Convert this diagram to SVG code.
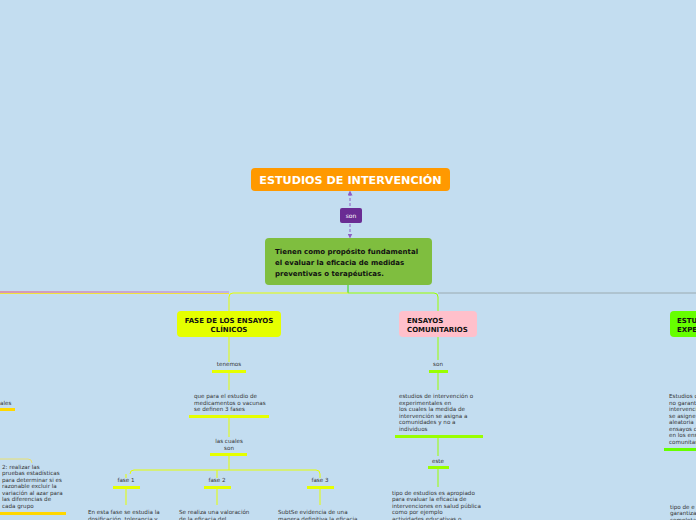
<svg xmlns="http://www.w3.org/2000/svg" width="696" height="520" viewBox="0 0 696 520">
<defs>
<style>
.bg{fill:#c3ddf0}
.t{font-family:"DejaVu Sans","Verdana",sans-serif;fill:#333}
.s{font-size:5.6px}
.nb{font-family:"DejaVu Sans","Verdana",sans-serif;font-weight:bold;fill:#111;font-size:7px}
.ln{fill:none;stroke-width:1}
.y{stroke:#e5ff00}
.lm{stroke:#99ff00}
.g{stroke:#66ff00}
.gd{stroke:#ffd700}
.ubY{fill:#e5ff00}
.ubL{fill:#99ff00}
.ubG{fill:#66ff00}
.ubD{fill:#ffd700}
</style>
<marker id="ah" viewBox="0 0 6 6" refX="3" refY="3" markerWidth="5" markerHeight="5" orient="auto-start-reverse">
<path d="M0,0 L6,3 L0,6 z" fill="#8e5cc4"/>
</marker>
<linearGradient id="lg" gradientUnits="userSpaceOnUse" x1="0" y1="292" x2="229" y2="292">
<stop offset="0" stop-color="#e8507a"/>
<stop offset="1" stop-color="#b888e0"/>
</linearGradient>
</defs>
<rect class="bg" x="0" y="0" width="696" height="520"/>

<g id="connectors">
<line x1="350" y1="193" x2="350" y2="206" stroke="#8e5cc4" stroke-width="1" stroke-dasharray="3,2" marker-start="url(#ah)"/>
<line x1="350" y1="224" x2="350" y2="236" stroke="#8e5cc4" stroke-width="1" stroke-dasharray="3,2" marker-end="url(#ah)"/>
<path class="ln" d="M348,285 V293" stroke="#33dd00" stroke-width="2"/>
<path class="ln" d="M229,292 H0" stroke="url(#lg)"/>
<path class="ln" d="M229,293.5 H0" stroke="#f2e23a"/>
<path class="ln y" d="M348,293 H233 Q229,293 229,297 V311"/>
<path class="ln lm" d="M348,293 H434 Q438,293 438,297 V311"/>
<path class="ln" d="M438,293 H696" stroke="#9aaab0"/>
<path class="ln y" d="M229,337 V362"/>
<path class="ln y" d="M229,373 V390"/>
<path class="ln y" d="M229,418 V437"/>
<path class="ln y" d="M229,456 V470"/>
<path class="ln y" d="M130,474 Q130,470 134,470 H316 Q320,470 320,474 V478"/>
<path class="ln y" d="M217,470 V478"/>
<path class="ln y" d="M126,474 V478"/>
<path class="ln y" d="M126,488 V505"/>
<path class="ln y" d="M217,488 V505"/>
<path class="ln y" d="M320,488 V505"/>
<path class="ln lm" d="M438,337 V360"/>
<path class="ln lm" d="M438,373 V390"/>
<path class="ln lm" d="M438,438 V456"/>
<path class="ln lm" d="M438,469 V487"/>
<path class="ln" d="M0,459 H28 Q32,459 32,463" stroke="#e8e070"/>
</g>

<g id="n-title">
<rect x="251" y="168" width="199" height="23" rx="4" fill="#ff9900"/>
<text x="350.5" y="184" text-anchor="middle" font-family="DejaVu Sans, Verdana, sans-serif" font-weight="bold" font-size="11.2" fill="#ffffff">ESTUDIOS DE INTERVENCIÓN</text>
</g>

<g id="n-son">
<rect x="340" y="208" width="22" height="15" rx="2" fill="#6a2c93"/>
<text x="351" y="218" text-anchor="middle" font-family="DejaVu Sans, Verdana, sans-serif" font-size="6" fill="#ffffff">son</text>
</g>

<g id="n-proposito">
<rect x="265" y="238" width="167" height="47" rx="4" fill="#7fbe3f"/>
<text class="nb" x="275" y="254">Tienen como propósito fundamental</text>
<text class="nb" x="275" y="265">el evaluar la eficacia de medidas</text>
<text class="nb" x="275" y="276">preventivas o terapéuticas.</text>
</g>

<g id="n-fase-ensayos">
<rect x="177" y="311" width="104" height="26" rx="4" fill="#e5ff00"/>
<text class="nb" x="229" y="322.5" text-anchor="middle">FASE DE LOS ENSAYOS</text>
<text class="nb" x="229" y="331.5" text-anchor="middle">CLÍNICOS</text>
</g>

<g id="n-tenemos">
<text class="t s" x="229" y="366" text-anchor="middle">tenemos</text>
<rect class="ubY" x="212" y="370" width="34" height="3"/>
</g>

<g id="n-que-para">
<text class="t s" x="194" y="398">que para el estudio de</text>
<text class="t s" x="194" y="404.5">medicamentos o vacunas</text>
<text class="t s" x="194" y="411">se definen 3 fases</text>
<rect class="ubY" x="189" y="415" width="80" height="3"/>
</g>

<g id="n-las-cuales">
<text class="t s" x="229" y="443" text-anchor="middle">las cuales</text>
<text class="t s" x="229" y="450" text-anchor="middle">son</text>
<rect class="ubY" x="210" y="453" width="37" height="3"/>
</g>

<g id="n-fase1">
<text class="t s" x="126" y="482" text-anchor="middle">fase 1</text>
<rect class="ubY" x="113" y="486" width="27" height="3"/>
<text class="t s" x="88" y="514">En esta fase se estudia  la</text>
<text class="t s" x="88" y="520.5">dosificación, tolerancia y</text>
</g>

<g id="n-fase2">
<text class="t s" x="217" y="482" text-anchor="middle">fase 2</text>
<rect class="ubY" x="204" y="486" width="27" height="3"/>
<text class="t s" x="179" y="514">Se realiza una valoración</text>
<text class="t s" x="179" y="520.5">de la eficacia del</text>
</g>

<g id="n-fase3">
<text class="t s" x="320" y="482" text-anchor="middle">fase 3</text>
<rect class="ubY" x="307" y="486" width="27" height="3"/>
<text class="t s" x="278" y="514">SubtSe evidencia de una</text>
<text class="t s" x="278" y="520.5">manera definitiva la eficacia</text>
</g>

<g id="n-comunitarios">
<rect x="399" y="311" width="78" height="26" rx="4" fill="#ffc0cb"/>
<text class="nb" x="407" y="322.5">ENSAYOS</text>
<text class="nb" x="407" y="331.5">COMUNITARIOS</text>
</g>

<g id="n-son2">
<text class="t s" x="438" y="366" text-anchor="middle">son</text>
<rect class="ubL" x="429" y="370" width="19" height="3"/>
</g>

<g id="n-estudios-int">
<text class="t s" x="399" y="398">estudios de intervención o</text>
<text class="t s" x="399" y="404.5">experimentales en</text>
<text class="t s" x="399" y="411">los cuales la medida de</text>
<text class="t s" x="399" y="417.5">intervención se asigna a</text>
<text class="t s" x="399" y="424">comunidades y no a</text>
<text class="t s" x="399" y="430.5">individuos</text>
<rect class="ubL" x="395" y="435" width="88" height="3"/>
</g>

<g id="n-este">
<text class="t s" x="438" y="463" text-anchor="middle">este</text>
<rect class="ubL" x="428" y="466" width="21" height="3"/>
</g>

<g id="n-tipo-estudios">
<text class="t s" x="392" y="494.5">tipo de estudios es apropiado</text>
<text class="t s" x="392" y="501">para evaluar la eficacia de</text>
<text class="t s" x="392" y="507.5">intervenciones en salud pública</text>
<text class="t s" x="392" y="514">como por ejemplo</text>
<text class="t s" x="392" y="520.5">actividades educativas o</text>
</g>

<g id="n-experimentales">
<rect x="670" y="311" width="40" height="26" rx="4" fill="#66ff00"/>
<text class="nb" x="677" y="322.5">ESTU</text>
<text class="nb" x="677" y="331.5">EXPE</text>
</g>

<g id="n-exp-text">
<text class="t s" x="669" y="398">Estudios c</text>
<text class="t s" x="669" y="404.5">no garanti</text>
<text class="t s" x="669" y="411">intervenci</text>
<text class="t s" x="669" y="417.5">se asigne</text>
<text class="t s" x="669" y="424">aleatoria</text>
<text class="t s" x="669" y="430.5">ensayos c</text>
<text class="t s" x="669" y="437">en los ens</text>
<text class="t s" x="669" y="443.5">comunitar</text>
<rect class="ubG" x="664" y="448" width="32" height="3"/>
</g>

<g id="n-exp-tipo">
<text class="t s" x="670" y="508.5">tipo de e</text>
<text class="t s" x="670" y="515">garantiza</text>
<text class="t s" x="670" y="521.5">completa</text>
</g>

<g id="n-left-ales">
<text class="t s" x="0" y="405">ales</text>
<rect class="ubD" x="0" y="408" width="15" height="3"/>
</g>

<g id="n-left-realizar">
<text class="t s" x="2" y="468.5">2: realizar las</text>
<text class="t s" x="2" y="475">pruebas estadísticas</text>
<text class="t s" x="2" y="481.5">para determinar si es</text>
<text class="t s" x="2" y="488">razonable excluir la</text>
<text class="t s" x="2" y="494.5">variación al azar para</text>
<text class="t s" x="2" y="501">las diferencias de</text>
<text class="t s" x="2" y="507.5">cada grupo</text>
<rect class="ubD" x="0" y="512" width="66" height="3"/>
</g>
</svg>
